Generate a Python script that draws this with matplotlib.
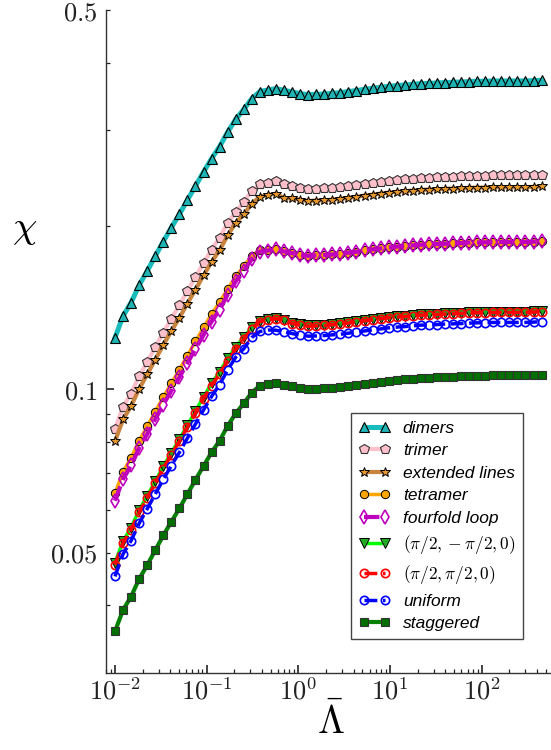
import numpy as np
import matplotlib
matplotlib.use("Agg")
import matplotlib.pyplot as plt
from matplotlib.ticker import FixedLocator, FuncFormatter, LogLocator, NullFormatter

plt.rcParams['mathtext.fontset'] = 'cm'

# x grid (log spaced, 54 points)
lam = np.geomspace(0.01, 450, 54)

dimers = [0.1245, 0.1365, 0.1445, 0.1555, 0.1652, 0.1760, 0.1872, 0.1986, 0.2101, 0.2233,
          0.2370, 0.2515, 0.2662, 0.2801, 0.2980, 0.3145, 0.3281, 0.3434, 0.3538, 0.3562,
          0.3583, 0.3558, 0.3532, 0.3508, 0.3492, 0.3497, 0.3501, 0.3512, 0.3522, 0.3538,
          0.3553, 0.3572, 0.3587, 0.3603, 0.3618, 0.3629, 0.3638, 0.3649, 0.3660, 0.3664,
          0.3669, 0.3676, 0.3680, 0.3685, 0.3691, 0.3696, 0.3696, 0.3701, 0.3701, 0.3701,
          0.3701, 0.3701, 0.3707, 0.3712]
trimer = [0.0846, 0.0928, 0.0982, 0.1057, 0.1123, 0.1196, 0.1272, 0.1350, 0.1428, 0.1518,
          0.1611, 0.1709, 0.1809, 0.1904, 0.2026, 0.2123, 0.2215, 0.2318, 0.2388, 0.2404,
          0.2419, 0.2385, 0.2367, 0.2351, 0.2340, 0.2344, 0.2346, 0.2354, 0.2360, 0.2371,
          0.2381, 0.2394, 0.2404, 0.2415, 0.2425, 0.2432, 0.2438, 0.2446, 0.2453, 0.2456,
          0.2459, 0.2464, 0.2466, 0.2470, 0.2474, 0.2477, 0.2477, 0.2480, 0.2480, 0.2480,
          0.2480, 0.2480, 0.2484, 0.2488]
extended = [0.0802, 0.0880, 0.0931, 0.1002, 0.1065, 0.1134, 0.1207, 0.1280, 0.1354, 0.1439,
            0.1527, 0.1621, 0.1716, 0.1805, 0.1921, 0.2027, 0.2101, 0.2199, 0.2266, 0.2281,
            0.2295, 0.2250, 0.2250, 0.2235, 0.2224, 0.2228, 0.2230, 0.2237, 0.2244, 0.2254,
            0.2263, 0.2275, 0.2285, 0.2295, 0.2305, 0.2312, 0.2317, 0.2324, 0.2331, 0.2334,
            0.2337, 0.2342, 0.2344, 0.2347, 0.2351, 0.2354, 0.2354, 0.2358, 0.2358, 0.2358,
            0.2358, 0.2358, 0.2361, 0.2365]
tetramer = [0.0643, 0.0705, 0.0747, 0.0804, 0.0854, 0.0910, 0.0967, 0.1026, 0.1086, 0.1154,
            0.1225, 0.1300, 0.1376, 0.1448, 0.1530, 0.1615, 0.1685, 0.1763, 0.1806, 0.1808,
            0.1816, 0.1796, 0.1783, 0.1771, 0.1763, 0.1766, 0.1768, 0.1773, 0.1778, 0.1786,
            0.1794, 0.1804, 0.1811, 0.1819, 0.1827, 0.1832, 0.1837, 0.1842, 0.1848, 0.1850,
            0.1852, 0.1856, 0.1858, 0.1861, 0.1864, 0.1866, 0.1866, 0.1869, 0.1869, 0.1869,
            0.1869, 0.1869, 0.1872, 0.1874]
fourfold = [0.0623, 0.0683, 0.0724, 0.0779, 0.0827, 0.0881, 0.0937, 0.0994, 0.1052, 0.1118,
            0.1187, 0.1259, 0.1333, 0.1402, 0.1495, 0.1581, 0.1653, 0.1738, 0.1793, 0.1802,
            0.1811, 0.1795, 0.1782, 0.1771, 0.1762, 0.1765, 0.1768, 0.1772, 0.1778, 0.1786,
            0.1793, 0.1803, 0.1811, 0.1818, 0.1826, 0.1832, 0.1836, 0.1842, 0.1847, 0.1850,
            0.1852, 0.1855, 0.1858, 0.1860, 0.1864, 0.1865, 0.1866, 0.1868, 0.1869, 0.1869,
            0.1868, 0.1869, 0.1871, 0.1874]
pi_neg = [0.0479, 0.0525, 0.0556, 0.0599, 0.0636, 0.0677, 0.0721, 0.0764, 0.0809, 0.0859,
          0.0912, 0.0968, 0.1025, 0.1078, 0.1140, 0.1198, 0.1247, 0.1303, 0.1336, 0.1345,
          0.1353, 0.1344, 0.1327, 0.1318, 0.1312, 0.1314, 0.1315, 0.1319, 0.1323, 0.1329,
          0.1335, 0.1342, 0.1348, 0.1354, 0.1359, 0.1363, 0.1367, 0.1371, 0.1375, 0.1377,
          0.1378, 0.1381, 0.1383, 0.1384, 0.1387, 0.1389, 0.1389, 0.1390, 0.1390, 0.1390,
          0.1390, 0.1390, 0.1393, 0.1395]
pi_pos = [0.0475, 0.0521, 0.0551, 0.0593, 0.0630, 0.0672, 0.0714, 0.0758, 0.0802, 0.0852,
          0.0904, 0.0960, 0.1016, 0.1069, 0.1128, 0.1185, 0.1236, 0.1294, 0.1333, 0.1342,
          0.1350, 0.1341, 0.1322, 0.1313, 0.1307, 0.1309, 0.1311, 0.1315, 0.1319, 0.1325,
          0.1330, 0.1337, 0.1343, 0.1349, 0.1355, 0.1359, 0.1362, 0.1366, 0.1370, 0.1372,
          0.1374, 0.1376, 0.1378, 0.1380, 0.1382, 0.1384, 0.1384, 0.1386, 0.1386, 0.1386,
          0.1386, 0.1386, 0.1388, 0.1390]
uniform = [0.0452, 0.0497, 0.0526, 0.0566, 0.0602, 0.0641, 0.0682, 0.0723, 0.0765, 0.0813,
           0.0863, 0.0916, 0.0970, 0.1020, 0.1086, 0.1146, 0.1188, 0.1246, 0.1278, 0.1286,
           0.1285, 0.1276, 0.1267, 0.1258, 0.1253, 0.1254, 0.1256, 0.1260, 0.1263, 0.1269,
           0.1274, 0.1281, 0.1287, 0.1292, 0.1298, 0.1302, 0.1305, 0.1309, 0.1313, 0.1314,
           0.1316, 0.1319, 0.1320, 0.1322, 0.1324, 0.1326, 0.1326, 0.1328, 0.1328, 0.1328,
           0.1328, 0.1328, 0.1330, 0.1332]
staggered = [0.0358, 0.0392, 0.0415, 0.0447, 0.0474, 0.0505, 0.0538, 0.0570, 0.0603, 0.0641,
             0.0681, 0.0722, 0.0765, 0.0804, 0.0856, 0.0903, 0.0942, 0.0986, 0.1016, 0.1023,
             0.1027, 0.1020, 0.1013, 0.1006, 0.1001, 0.1003, 0.1004, 0.1007, 0.1010, 0.1014,
             0.1019, 0.1024, 0.1028, 0.1033, 0.1037, 0.1040, 0.1043, 0.1046, 0.1049, 0.1050,
             0.1052, 0.1054, 0.1055, 0.1056, 0.1058, 0.1060, 0.1060, 0.1061, 0.1061, 0.1061,
             0.1061, 0.1061, 0.1063, 0.1064]

fig = plt.figure(figsize=(5.51, 7.5), dpi=100)
ax = fig.add_axes([0.1924, 0.1027, 0.8076, 0.8839])

ax.plot(lam, dimers, '-', color='#19bcbc', lw=3.6, marker='^', ms=7,
        mfc='#1fb3b3', mec='black', mew=0.8, label='dimers')
ax.plot(lam, trimer, '-', color='pink', lw=3.0, marker='p', ms=7,
        mfc='pink', mec='#333333', mew=0.8, label='trimer')
ax.plot(lam, extended, '-', color='#c8843f', lw=3.0, marker='*', ms=7,
        mfc='#e8982a', mec='black', mew=0.7, label='extended lines')
ax.plot(lam, tetramer, '-', color='orange', lw=2.5, marker='o', ms=6,
        mfc='orange', mec='black', mew=0.7, label='tetramer')
ax.plot(lam, fourfold, '--', color='m', lw=3.0, marker='d', ms=7,
        mfc='none', mec='m', mew=1.2, label='fourfold loop')
ax.plot(lam, pi_neg, '-', color='lime', lw=2.5, marker='v', ms=7,
        mfc='#22aa22', mec='black', mew=0.7, label=r'$(\pi/2,-\pi/2,0)$')
ax.plot(lam, pi_pos, '--', color='red', lw=2.5, marker='o', ms=6,
        mfc='none', mec='red', mew=1.2, label=r'$(\pi/2,\pi/2,0)$')
ax.plot(lam, uniform, '--', color='blue', lw=2.5, marker='o', ms=6,
        mfc='none', mec='blue', mew=1.2, label='uniform')
ax.plot(lam, staggered, '-', color='green', lw=3.0, marker='s', ms=6,
        mfc='#006f00', mec='#333333', mew=0.8, label='staggered')

ax.set_xscale('log')
ax.set_yscale('log')
ax.set_xlim(0.00798, 570)
ax.set_ylim(0.03, 0.5)

ax.spines['top'].set_visible(False)
ax.spines['right'].set_visible(False)
for s in ['left', 'bottom']:
    ax.spines[s].set_linewidth(1.0)
    ax.spines[s].set_color('#333333')

# x ticks
ax.xaxis.set_major_locator(FixedLocator([1e-2, 1e-1, 1e0, 1e1, 1e2]))
ax.xaxis.set_major_formatter(FuncFormatter(lambda v, p: r'$10^{%d}$' % round(np.log10(v))))
ax.xaxis.set_minor_locator(LogLocator(base=10, subs=np.arange(2, 10), numticks=20))
ax.xaxis.set_minor_formatter(NullFormatter())

# y ticks
ax.yaxis.set_major_locator(FixedLocator([0.1]))
ax.yaxis.set_major_formatter(FuncFormatter(lambda v, p: r'$0.1$'))
ax.yaxis.set_minor_locator(FixedLocator([0.04, 0.05, 0.06, 0.07, 0.08, 0.09, 0.2, 0.3, 0.4, 0.5]))


def minor_fmt(v, p):
    if np.isclose(v, 0.05):
        return r'$0.05$'
    if np.isclose(v, 0.5):
        return r'$0.5$'
    return ''


ax.yaxis.set_minor_formatter(FuncFormatter(minor_fmt))

ax.tick_params(which='major', direction='in', length=6, width=1.2, labelsize=19, colors='#222222')
ax.tick_params(which='minor', direction='in', length=3, width=0.9, labelsize=19, colors='#222222')
ax.tick_params(axis='x', which='both', pad=4)
ax.tick_params(axis='y', which='both', pad=6)

ax.set_xlabel(r'$\bar{\Lambda}$', fontsize=28)
ax.xaxis.set_label_coords(0.505, -0.045)
ax.set_ylabel(r'$\chi$', fontsize=28, rotation=0, ha='center', va='center')
ax.yaxis.set_label_coords(-0.184, 0.671)

leg = ax.legend(loc='lower right', bbox_to_anchor=(0.937, 0.0513), borderaxespad=0,
                numpoints=2, fancybox=False, framealpha=1, edgecolor='#444444',
                prop={'family': 'Liberation Sans', 'style': 'italic', 'size': 12.5},
                labelspacing=0.42, handlelength=1.85, handletextpad=0.7, borderpad=0.45)
leg.get_frame().set_linewidth(1.0)

fig.savefig('out.png', dpi=100)
